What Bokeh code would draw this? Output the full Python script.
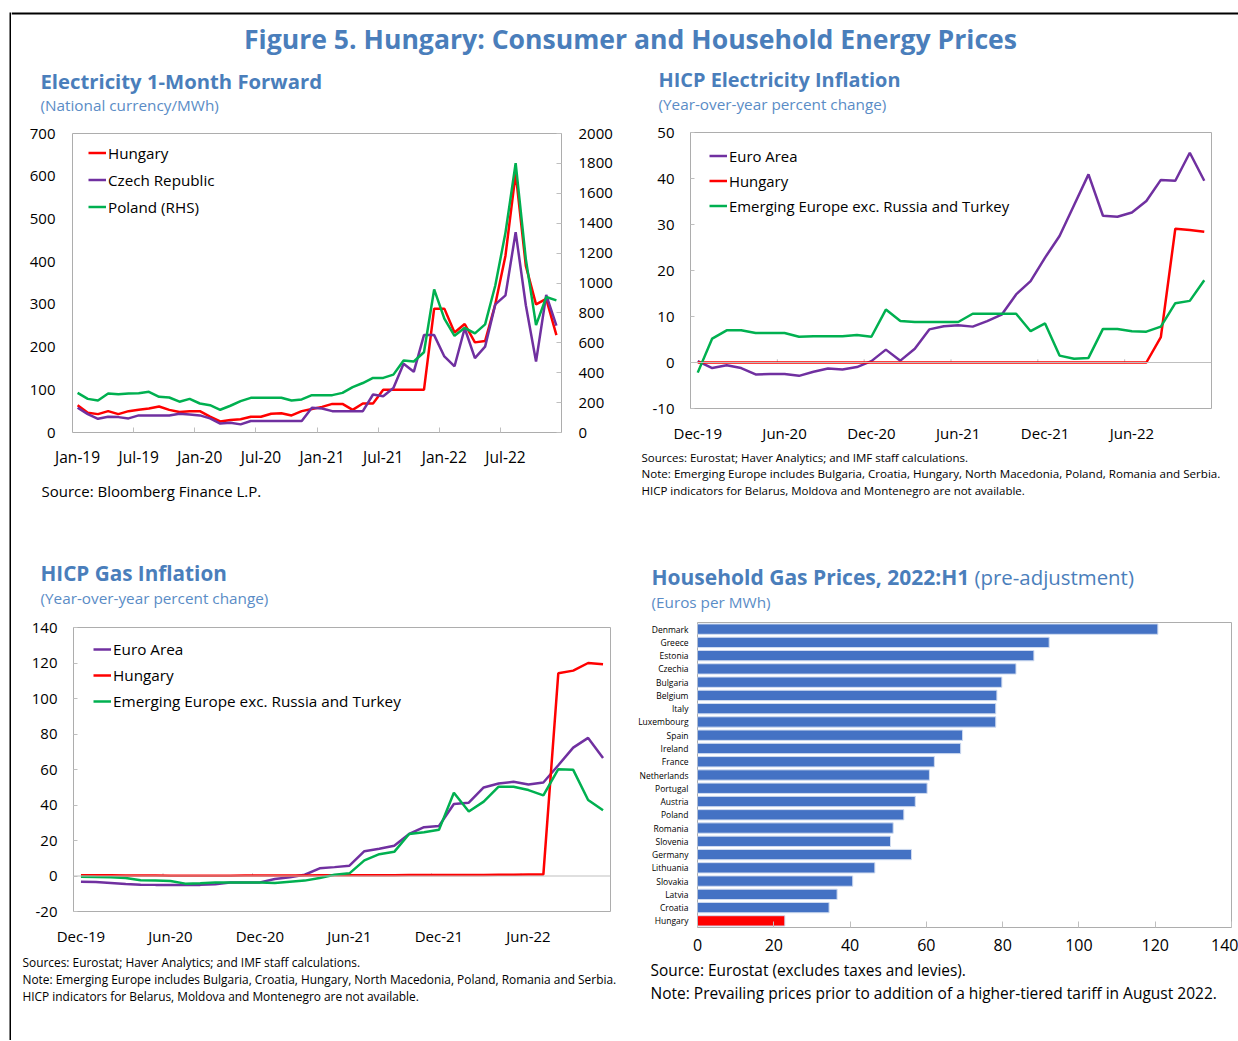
from bokeh.plotting import figure
from bokeh.models import (Range1d, LinearAxis, FixedTicker, Label, Legend, LegendItem,
                          Span, FactorRange)
from bokeh.layouts import row, column
from bokeh.embed import file_html
from bokeh.resources import INLINE

FONT = "Open Sans"
TITLE_BLUE = "#4A7EBB"
SUB_BLUE = "#5A8CC6"
RED = "#FF0000"
PURPLE = "#7030A0"
GREEN = "#00B050"
BAR_BLUE = "#4472C4"
FRAME = "#ADADAD"
TICK = "#BFBFBF"

# ---------------- data ----------------
# Electricity 1-month forward, monthly Jan-19 .. Dec-22
fwd_months = list(range(48))
fwd_tick_pos = [0, 6, 12, 18, 24, 30, 36, 42]
fwd_tick_labels = ["Jan-19", "Jul-19", "Jan-20", "Jul-20", "Jan-21", "Jul-21", "Jan-22", "Jul-22"]
fwd_bounds = [5.5, 11.5, 17.5, 23.5, 29.5, 35.5, 41.5]
hungary_fwd = [64, 46, 43, 50, 43, 50, 53, 56, 61, 53, 48, 50, 50, 37, 26, 29, 31, 37, 37, 44,
               45, 40, 50, 55, 60, 67, 67, 53, 68, 68, 100, 100, 100, 100, 100, 290, 290, 234, 254, 211,
               214, 300, 414, 607, 390, 300, 313, 228]
czech_fwd = [58, 43, 32, 37, 36, 33, 40, 40, 40, 40, 44, 42, 40, 33, 21, 23, 19, 27, 27, 27,
             27, 27, 27, 58, 56, 50, 50, 50, 50, 89, 85, 104, 161, 142, 228, 228, 178, 155, 244, 174,
             201, 300, 321, 469, 298, 166, 322, 250]
poland_fwd = [265, 225, 214, 261, 256, 261, 263, 272, 239, 234, 206, 225, 194, 183, 152, 179, 210, 232, 232, 232,
              232, 214, 221, 250, 250, 250, 265, 303, 331, 365, 365, 387, 482, 475, 537, 957, 762, 647, 700, 663,
              723, 983, 1337, 1801, 1160, 718, 906, 884]

# HICP series, monthly Dec-19 .. Nov-22
hicp_months = list(range(36))
hicp_tick_pos = [0, 6, 12, 18, 24, 30]
hicp_tick_labels = ["Dec-19", "Jun-20", "Dec-20", "Jun-21", "Dec-21", "Jun-22"]
hicp_bounds = [5.5, 11.5, 17.5, 23.5, 29.5]

ea_elec = [0.3, -1.2, -0.6, -1.2, -2.6, -2.5, -2.5, -2.9, -2.0, -1.3, -1.5, -1.0, 0.3, 2.8, 0.4, 3.0,
           7.2, 7.9, 8.1, 7.8, 9.0, 10.4, 14.8, 17.7, 22.8, 27.5, 34.2, 40.9, 31.9, 31.7, 32.6, 35.1,
           39.7, 39.5, 45.6, 39.5]
hu_elec = [0.0, 0.0, 0.0, 0.0, 0.0, 0.0, 0.0, 0.0, 0.0, 0.0, 0.0, 0.0, 0.0, 0.0, 0.0, 0.0,
           0.0, 0.0, 0.0, 0.0, 0.0, 0.0, 0.0, 0.0, 0.0, 0.0, 0.0, 0.0, 0.0, 0.0, 0.0, 0.0,
           5.5, 29.1, 28.8, 28.4]
em_elec = [-2.2, 5.2, 7.0, 7.0, 6.4, 6.4, 6.4, 5.6, 5.7, 5.7, 5.7, 6.0, 5.6, 11.5, 9.0, 8.8,
           8.8, 8.8, 8.8, 10.6, 10.6, 10.6, 10.6, 6.8, 8.5, 1.5, 0.8, 1.0, 7.3, 7.3, 6.8, 6.7,
           7.8, 12.9, 13.4, 17.9]

ea_gas = [-3.2, -3.4, -3.9, -4.5, -4.9, -5.0, -5.0, -5.0, -5.0, -4.7, -3.6, -3.6, -3.6, -1.7, -0.7, 0.7,
          4.3, 5.0, 5.8, 14.0, 15.3, 17.0, 23.7, 27.5, 28.2, 40.6, 41.3, 49.9, 52.1, 53.1, 51.6, 52.7,
          62.4, 72.3, 77.8, 66.5]
hu_gas = [0.4, 0.4, 0.4, 0.3, 0.3, 0.3, 0.2, 0.1, 0.1, 0.1, 0.2, 0.3, 0.3, 0.3, 0.3, 0.3,
          0.4, 0.4, 0.4, 0.4, 0.4, 0.4, 0.5, 0.5, 0.5, 0.5, 0.5, 0.6, 0.7, 0.7, 0.8, 0.9,
          114.2, 115.7, 120.0, 119.3]
em_gas = [-0.4, -0.6, -0.7, -1.1, -2.4, -2.6, -2.8, -4.3, -4.1, -3.7, -3.6, -3.6, -3.6, -3.9, -3.2, -2.6,
          -1.1, 0.7, 1.5, 8.8, 12.3, 13.6, 23.7, 24.7, 26.0, 46.9, 36.3, 41.9, 50.3, 50.3, 48.4, 45.4,
          60.2, 59.8, 42.8, 37.0]

countries = ["Denmark", "Greece", "Estonia", "Czechia", "Bulgaria", "Belgium", "Italy", "Luxembourg",
             "Spain", "Ireland", "France", "Netherlands", "Portugal", "Austria", "Poland", "Romania",
             "Slovenia", "Germany", "Lithuania", "Slovakia", "Latvia", "Croatia", "Hungary"]
gas_prices = [120.7, 92.2, 88.2, 83.5, 79.8, 78.5, 78.2, 78.2, 69.5, 69.0, 62.1, 60.8, 60.2, 57.1,
              54.1, 51.3, 50.6, 56.1, 46.5, 40.7, 36.6, 34.5, 22.9]
gas_ticks = [0, 20, 40, 60, 80, 100, 120, 140]

elec_y_ticks = [-10, 0, 10, 20, 30, 40, 50]
gas_y_ticks = [-20, 0, 20, 40, 60, 80, 100, 120, 140]


# ---------------- helpers ----------------
def text_fig(w, h):
    # ranges in local pixel units; frame covers the whole canvas
    p = figure(width=w, height=h, x_range=Range1d(0, w), y_range=Range1d(h, 0),
               output_backend="svg", toolbar_location=None,
               x_axis_location=None, y_axis_location=None, frame_align=False,
               min_border_left=0, min_border_right=0, min_border_top=0, min_border_bottom=0)
    p.grid.visible = False
    p.outline_line_color = None
    return p


def add_text(p, x, y, text, size, color="#000000", bold=False, align="left"):
    p.add_layout(Label(x=x, y=y, text=text, text_font=FONT, text_font_size=f"{size}px",
                       text_color=color, text_font_style="bold" if bold else "normal",
                       text_align=align, text_baseline="middle"))


def chart(w, h, l, r, t, b, xr, yr):
    p = figure(width=w, height=h, x_range=xr, y_range=yr, output_backend="svg",
               toolbar_location=None, min_border_left=l, min_border_right=r,
               min_border_top=t, min_border_bottom=b, frame_align=False)
    p.outline_line_color = FRAME
    p.outline_line_width = 1
    p.grid.visible = False
    return p


def style_axis(ax, size=15, standoff=14, tick_in=0):
    ax.axis_line_color = None
    ax.major_tick_in = tick_in
    ax.major_tick_out = 0
    ax.minor_tick_in = 0
    ax.minor_tick_out = 0
    ax.major_tick_line_color = TICK
    ax.minor_tick_line_color = TICK
    ax.major_label_text_font = FONT
    ax.major_label_text_font_size = f"{size}px"
    ax.major_label_text_color = "#000000"
    ax.major_label_standoff = standoff


def hyphen_labels(ticks):
    # plain hyphen-minus for negative tick labels, as in the original
    return {t: f"{t}" for t in ticks if t < 0}


def make_legend(p, items, x, y, pitch, size):
    lg = Legend(items=[LegendItem(label=lab, renderers=[r]) for lab, r in items],
                location=(x, y), glyph_width=18, glyph_height=pitch, label_height=pitch,
                spacing=0, padding=0, margin=0, label_standoff=2,
                border_line_color=None, background_fill_alpha=0,
                label_text_font=FONT, label_text_font_size=f"{size}px",
                label_text_color="#000000")
    p.add_layout(lg)


LW = 2.5
SSIZE = 15.3

# ---------------- frame lines of the page ----------------
left_strip = figure(width=11, height=1040, output_backend="svg", toolbar_location=None,
                    x_axis_location=None, y_axis_location=None, frame_align=False,
                    min_border_left=9, min_border_right=0, min_border_top=12, min_border_bottom=0,
                    background_fill_color="black", border_fill_color="white")
left_strip.grid.visible = False
left_strip.outline_line_color = None

header = text_fig(1227, 60)
header.add_layout(Span(location=13, dimension="width", line_color="black", line_width=2))
add_text(header, 619, 38, "Figure 5. Hungary: Consumer and Household Energy Prices", 26.6,
         TITLE_BLUE, bold=True, align="center")

# ---------------- top-left ----------------
tl_title = text_fig(617, 58)
add_text(tl_title, 29, 20, "Electricity 1-Month Forward", 20.3, TITLE_BLUE, bold=True)
add_text(tl_title, 29, 44, "(National currency/MWh)", SSIZE, SUB_BLUE)

tl = chart(617, 352, 61, 67, 15, 35, Range1d(-0.5, 47.5), Range1d(0, 700))
tl.extra_y_ranges = {"rhs": Range1d(0, 2000)}
tl.xaxis[0].ticker = FixedTicker(ticks=fwd_tick_pos, minor_ticks=fwd_bounds)
tl.xaxis[0].major_label_overrides = {pos: lab for pos, lab in zip(fwd_tick_pos, fwd_tick_labels)}
style_axis(tl.xaxis[0], size=15.5, standoff=13)
tl.xaxis[0].minor_tick_in = 5
tl.yaxis[0].ticker = FixedTicker(ticks=[0, 100, 200, 300, 400, 500, 600, 700])
style_axis(tl.yaxis[0], standoff=17)
rax = LinearAxis(y_range_name="rhs", ticker=FixedTicker(ticks=[0, 200, 400, 600, 800, 1000, 1200,
                                                               1400, 1600, 1800, 2000]))
style_axis(rax, standoff=17, tick_in=5)
tl.add_layout(rax, "right")
r_hu = tl.line(fwd_months, hungary_fwd, color=RED, line_width=LW)
r_cz = tl.line(fwd_months, czech_fwd, color=PURPLE, line_width=LW)
r_pl = tl.line(fwd_months, poland_fwd, color=GREEN, line_width=LW, y_range_name="rhs")
make_legend(tl, [("Hungary", r_hu), ("Czech Republic", r_cz), ("Poland (RHS)", r_pl)],
            16, 212, 27, 15.2)

tl_notes = text_fig(617, 60)
add_text(tl_notes, 30, 20, "Source: Bloomberg Finance L.P.", 15)

tl_col = column(tl_title, tl, tl_notes)

# ---------------- top-right ----------------
tr_title = text_fig(610, 58)
add_text(tr_title, 30, 19, "HICP Electricity Inflation", 19.9, TITLE_BLUE, bold=True)
add_text(tr_title, 30, 43, "(Year-over-year percent change)", SSIZE, SUB_BLUE)

tr = chart(610, 328, 62, 27, 14, 38, Range1d(-0.5, 35.5), Range1d(-10, 50))
tr.xaxis[0].ticker = FixedTicker(ticks=hicp_tick_pos)
tr.xaxis[0].major_label_overrides = {pos: lab for pos, lab in zip(hicp_tick_pos, hicp_tick_labels)}
style_axis(tr.xaxis[0], standoff=14)
tr.yaxis[0].ticker = FixedTicker(ticks=elec_y_ticks)
tr.yaxis[0].major_label_overrides = hyphen_labels(elec_y_ticks)
style_axis(tr.yaxis[0], standoff=16, tick_in=4)
tr.add_layout(Span(location=0, dimension="width", line_color=TICK, line_width=1))
tr.segment(x0=hicp_bounds, y0=0, x1=hicp_bounds, y1=0.7, line_color=TICK, line_width=1)
r1 = tr.line(hicp_months, ea_elec, color=PURPLE, line_width=LW)
r2 = tr.line(hicp_months, hu_elec, color=RED, line_width=LW)
r3 = tr.line(hicp_months, em_elec, color=GREEN, line_width=LW)
make_legend(tr, [("Euro Area", r1), ("Hungary", r2),
                 ("Emerging Europe exc. Russia and Turkey", r3)], 19, 190, 25, 14.9)

tr_notes = text_fig(610, 84)
add_text(tr_notes, 13, 11, "Sources: Eurostat; Haver Analytics; and IMF staff calculations.", 11.5)
add_text(tr_notes, 13, 27, "Note: Emerging Europe includes Bulgaria, Croatia, Hungary, North Macedonia, "
                           "Poland, Romania and Serbia.", 11.6)
add_text(tr_notes, 13, 44, "HICP indicators for Belarus, Moldova and Montenegro are not available.", 11.5)

tr_col = column(tr_title, tr, tr_notes)

# ---------------- bottom-left ----------------
bl_title = text_fig(617, 82)
add_text(bl_title, 29, 42, "HICP Gas Inflation", 20.7, TITLE_BLUE, bold=True)
add_text(bl_title, 29, 67, "(Year-over-year percent change)", SSIZE, SUB_BLUE)

bl = chart(617, 336, 62, 18, 15, 36, Range1d(-0.5, 35.5), Range1d(-20, 140))
bl.xaxis[0].ticker = FixedTicker(ticks=hicp_tick_pos)
bl.xaxis[0].major_label_overrides = {pos: lab for pos, lab in zip(hicp_tick_pos, hicp_tick_labels)}
style_axis(bl.xaxis[0], standoff=14)
bl.yaxis[0].ticker = FixedTicker(ticks=gas_y_ticks)
bl.yaxis[0].major_label_overrides = hyphen_labels(gas_y_ticks)
style_axis(bl.yaxis[0], standoff=16, tick_in=4)
bl.add_layout(Span(location=0, dimension="width", line_color=TICK, line_width=1))
bl.segment(x0=hicp_bounds, y0=0, x1=hicp_bounds, y1=1.5, line_color=TICK, line_width=1)
g1 = bl.line(hicp_months, ea_gas, color=PURPLE, line_width=LW)
g2 = bl.line(hicp_months, hu_gas, color=RED, line_width=LW)
g3 = bl.line(hicp_months, em_gas, color=GREEN, line_width=LW)
make_legend(bl, [("Euro Area", g1), ("Hungary", g2),
                 ("Emerging Europe exc. Russia and Turkey", g3)], 20, 197, 26, 15.3)

bl_notes = text_fig(617, 92)
add_text(bl_notes, 11, 13, "Sources: Eurostat; Haver Analytics; and IMF staff calculations.", 11.9)
add_text(bl_notes, 11, 30, "Note: Emerging Europe includes Bulgaria, Croatia, Hungary, North Macedonia, "
                           "Poland, Romania and Serbia.", 11.9)
add_text(bl_notes, 11, 47, "HICP indicators for Belarus, Moldova and Montenegro are not available.", 11.9)

bl_col = column(bl_title, bl, bl_notes)

# ---------------- bottom-right ----------------
br_title = text_fig(610, 82)
add_text(br_title, 23, 46, "Household Gas Prices, 2022:H1", 21.0, TITLE_BLUE, bold=True)
add_text(br_title, 346, 46, "(pre-adjustment)", 20.4, TITLE_BLUE)
add_text(br_title, 23, 71, "(Euros per MWh)", SSIZE, SUB_BLUE)

br = chart(610, 348, 69, 7, 10, 33, Range1d(0, 140), FactorRange(factors=countries[::-1]))
bar_colors = [RED if c == "Hungary" else BAR_BLUE for c in countries]
br.hbar(y=countries, right=gas_prices, left=0, height=0.78, fill_color=bar_colors,
        line_color="#D0DCF0", line_width=1)
br.xaxis[0].ticker = FixedTicker(ticks=gas_ticks)
style_axis(br.xaxis[0], size=16, standoff=11, tick_in=6)
style_axis(br.yaxis[0], size=8.5, standoff=9)
br.yaxis[0].major_tick_line_color = None

br_notes = text_fig(610, 80)
add_text(br_notes, 22, 10, "Source: Eurostat (excludes taxes and levies).", 15.4)
add_text(br_notes, 22, 32, "Note: Prevailing prices prior to addition of a higher-tiered tariff in August 2022.", 15.5)

br_col = column(br_title, br, br_notes)

main = column(header, row(tl_col, tr_col), row(bl_col, br_col))
root = row(left_strip, main)

open("out.html", "w").write(file_html(root, INLINE, title="Figure 5"))
